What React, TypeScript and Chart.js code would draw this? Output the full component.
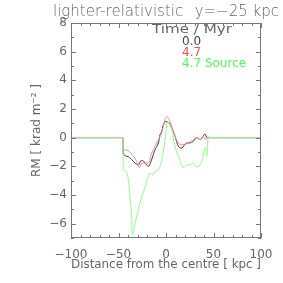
import { useEffect, useRef } from "react";
import { Chart, registerables } from "chart.js";

Chart.register(...registerables);

// ---- data ----
const xBlack = [-100, -45.5, -45, -41, -36, -32.6, -29, -27, -24.5, -21, -18.5, -16, -13, -11, -8, -6.3, -4.5, -2.8, 0, 2.5, 4, 6.5, 9.5, 13, 16.5, 21.8, 25, 28.7, 32, 36, 39, 41, 43, 44, 100];
const yBlack = [0, 0, -1.07, -1.3, -1.54, -1.77, -1.9, -1.65, -1.6, -1.85, -2.0, -1.7, -1.1, -0.75, -0.37, 0.2, 0.44, 0.9, 1.14, 1.05, 1.0, 0.6, 0.1, -0.6, -0.72, -0.37, -0.37, -0.26, 0, -0.14, 0.1, 0.26, 0, 0, 0];

const xRed = [-100, -45.5, -45, -43, -40, -37, -34, -31, -28, -25.6, -22, -18.6, -15, -11.6, -8, -4.5, -1, 0.5, 2.5, 6, 9.5, 13, 18, 23.5, 28.8, 32, 35.8, 39, 42, 43.5, 100];
const yRed = [0, 0, -0.9, -0.85, -0.9, -1.1, -1.3, -1.65, -2.1, -1.77, -1.77, -1.77, -1.07, -0.6, -0.14, 0.33, 1.26, 1.45, 1.38, 0.8, 0.1, -0.37, -0.49, -0.37, -0.14, 0, -0.14, 0.1, -0.14, 0, 0];

const xGreen = [-100, -45.5, -45, -43, -39.7, -38, -36, -35.5, -32.6, -29, -25.6, -22, -18.6, -16.8, -14, -11.6, -8, -4.5, -1, 0.5, 1.5, 3, 6, 9.5, 14.7, 18, 21.8, 25, 28.8, 32, 35.8, 39, 41, 43, 44.5, 45, 100];
const yGreen = [0, 0, -2.24, -2.3, -2.9, -4.1, -5.7, -6.8, -6.0, -5.0, -4.1, -3.5, -2.7, -2.47, -2.6, -2.35, -2.24, -1.54, -0.14, 0.8, 1.15, 1.0, 0.56, -0.6, -1.54, -2.1, -1.9, -1.9, -1.77, -2.0, -1.9, -1.3, -0.7, -1.3, 0.1, 0, 0];

const seriesLabels = ["0.0", "4.7", "4.7 Source"];
const legendHeader = "Time / Myr";
const titleLeft = "lighter-relativistic";
const titleRight = "y=\u221225 kpc";
const xAxisTitle = "Distance from the centre [ kpc ]";
const yAxisTitle = "RM [ krad m\u207B\u00B2 ]";

const xTickValues = [-100, -50, 0, 50, 100];
const xTickLabels = ["\u2212100", "\u221250", "0", "50", "100"];
const xMinorValues = [-90, -80, -70, -60, -40, -30, -20, -10, 10, 20, 30, 40, 60, 70, 80, 90];
const yTickValues = [-6, -4, -2, 0, 2, 4, 6, 8];
const yTickLabels = ["\u22126", "\u22124", "\u22122", "0", "2", "4", "6", "8"];
const yMinorValues = [-7, -5, -3, -1, 1, 3, 5, 7];

const FONT = "'DejaVu Sans', sans-serif";
const TEXT = "#666666";
const FRAME = "#777777";

const toPoints = (xs: number[], ys: number[]) => xs.map((x, i) => ({ x, y: ys[i] }));

const framePlugin = {
  id: "idlFrame",
  afterDraw(chart: any) {
    const { ctx, chartArea: a, scales } = chart;
    const xs = scales.x;
    const ys = scales.y;
    ctx.save();
    ctx.fillStyle = FRAME;
    const L = Math.round(a.left);
    const R = Math.round(a.right) - 1;
    const T = Math.round(a.top);
    const B = Math.round(a.bottom) - 1;
    // frame
    ctx.fillRect(L, T, R - L + 1, 1);
    ctx.fillRect(L, B, R - L + 1, 1);
    ctx.fillRect(L, T, 1, B - T + 1);
    ctx.fillRect(R, T, 1, B - T + 1);
    const major = 5;
    const minor = 3;
    const xt = (v: number, len: number) => {
      const p = Math.round(xs.getPixelForValue(v));
      ctx.fillRect(p, B - len + 1, 1, len);
      ctx.fillRect(p, T, 1, len);
    };
    const yt = (v: number, len: number) => {
      const p = Math.round(ys.getPixelForValue(v));
      ctx.fillRect(L, p, len, 1);
      ctx.fillRect(R - len + 1, p, len, 1);
    };
    xTickValues.forEach((v) => xt(v, major));
    xMinorValues.forEach((v) => xt(v, minor));
    yTickValues.forEach((v) => yt(v, major));
    yMinorValues.forEach((v) => yt(v, minor));

    // title
    ctx.fillStyle = TEXT;
    ctx.font = `200 15px ${FONT}`;
    ctx.textBaseline = "alphabetic";
    ctx.textAlign = "left";
    ctx.fillText(titleLeft, 53, 16);
    ctx.textAlign = "right";
    ctx.fillText(titleRight, 279, 16);

    // legend
    ctx.textBaseline = "middle";
    ctx.textAlign = "left";
    ctx.fillStyle = TEXT;
    ctx.font = `12px ${FONT}`;
    const w = ctx.measureText(legendHeader).width;
    ctx.save();
    ctx.translate(152, 30);
    ctx.scale(80 / w, 1);
    ctx.fillText(legendHeader, 0, 0);
    ctx.restore();
    const colors = ["#444444", "#ff4d4d", "#4dff4d"];
    const ly = [41.5, 53, 64];
    seriesLabels.forEach((s, i) => {
      ctx.fillStyle = colors[i];
      ctx.fillText(s, 182, ly[i]);
    });
    ctx.restore();
  },
};

export default function App() {
  const ref = useRef<HTMLCanvasElement | null>(null);
  useEffect(() => {
    document.body.style.margin = "0";
    const canvas = ref.current!;
    const line = (label: string, data: any[], color: string, order: number) => ({
      label,
      data,
      showLine: true,
      borderColor: color,
      borderWidth: 1,
      pointRadius: 0,
      cubicInterpolationMode: "monotone" as const,
      order,
    });
    const chart = new Chart(canvas, {
      type: "scatter",
      data: {
        datasets: [
          line(seriesLabels[0], toPoints(xBlack, yBlack), "#3a3a3a", 3),
          line(seriesLabels[1], toPoints(xRed, yRed), "#ff8c8c", 2),
          line(seriesLabels[2], toPoints(xGreen, yGreen), "#8cff8c", 1),
        ],
      },
      options: {
        animation: false,
        responsive: false,
        layout: { padding: { top: 23, right: 22, left: 0, bottom: 0 } },
        plugins: { legend: { display: false }, title: { display: false }, tooltip: { enabled: false } },
        scales: {
          x: {
            type: "linear",
            min: -100,
            max: 100,
            grid: { display: false, drawTicks: false },
            border: { display: false },
            afterBuildTicks: (s: any) => {
              s.ticks = xTickValues.map((v) => ({ value: v }));
            },
            afterFit: (s: any) => {
              s.height = 45;
            },
            ticks: {
              color: TEXT,
              font: { family: FONT, size: 12 },
              padding: 10,
              maxRotation: 0,
              autoSkip: false,
              callback: (_v: any, i: number) => xTickLabels[i],
            },
            title: {
              display: true,
              text: xAxisTitle,
              color: TEXT,
              font: { family: FONT, size: 12 },
              padding: { top: 0, bottom: 11 },
            },
          },
          y: {
            type: "linear",
            min: -7,
            max: 8,
            grid: { display: false, drawTicks: false },
            border: { display: false },
            afterBuildTicks: (s: any) => {
              s.ticks = yTickValues.map((v) => ({ value: v }));
            },
            afterFit: (s: any) => {
              s.width = 71;
            },
            ticks: {
              color: TEXT,
              font: { family: FONT, size: 12 },
              padding: 4,
              autoSkip: false,
              callback: (_v: any, i: number) => yTickLabels[i],
            },
            title: {
              display: true,
              text: yAxisTitle,
              color: TEXT,
              font: { family: FONT, size: 12 },
              padding: { top: 30, bottom: 0 },
            },
          },
        },
      },
      plugins: [framePlugin],
    });
    return () => chart.destroy();
  }, []);
  return (
    <div style={{ position: "absolute", left: 0, top: 0, width: 283, height: 283, background: "#fff" }}>
      <canvas ref={ref} width={283} height={283} style={{ width: 283, height: 283 }} />
    </div>
  );
}
